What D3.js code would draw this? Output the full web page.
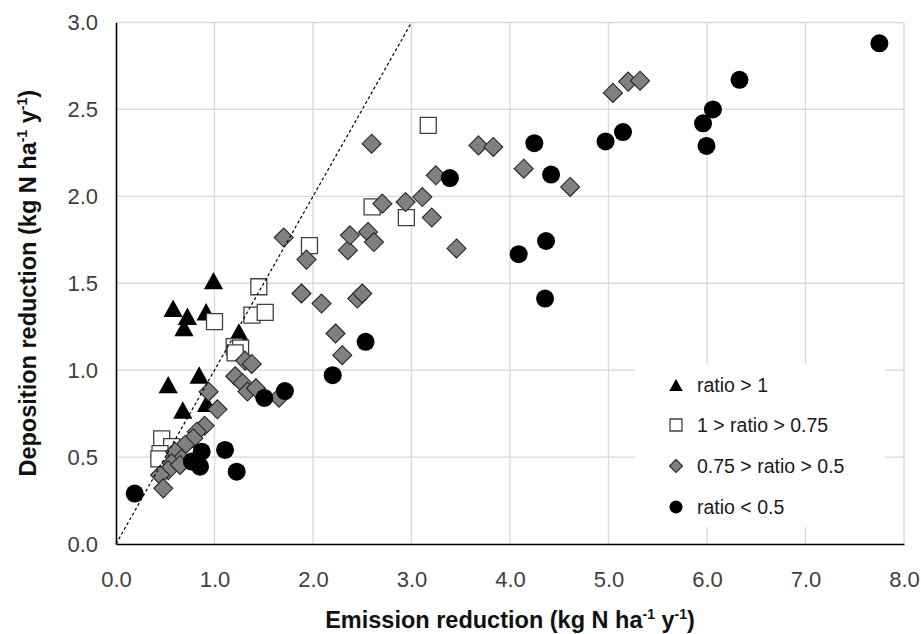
<!DOCTYPE html>
<html><head><meta charset="utf-8">
<script src="https://cdn.jsdelivr.net/npm/d3@7"></script>
<style>body{margin:0;background:#fff}</style>
</head><body>
<svg id="c" width="921" height="634"></svg>
<script>
// ---------- data ----------
const seriesNames = ["ratio > 1", "1 > ratio > 0.75", "0.75 > ratio > 0.5", "ratio < 0.5"];

const ratioAbove1 = [
  [0.99,1.515],[0.58,1.356],[0.725,1.31],[0.69,1.245],[0.915,1.336],[1.248,1.22],
  [0.53,0.917],[0.844,0.972],[0.678,0.771],[0.92,0.81]
];
const ratio1to075 = [
  [1.45,1.48],[1.0,1.279],[1.38,1.317],[1.515,1.332],[1.2,1.135],[1.265,1.127],[1.21,1.1],
  [0.464,0.605],[0.565,0.56],[0.447,0.52],[0.435,0.49],
  [3.17,2.408],[2.6,1.939],[2.948,1.878],[1.964,1.717]
];
const ratio075to05 = [
  [0.90,0.68],[0.82,0.646],[0.785,0.608],[0.70,0.57],[0.60,0.53],[0.667,0.49],[0.565,0.464],
  [0.53,0.425],[0.447,0.397],[0.48,0.32],[0.65,0.455],
  [0.94,0.876],[1.03,0.775],[1.31,1.055],[1.378,1.036],[1.21,0.965],[1.285,0.925],[1.335,0.877],
  [1.42,0.896],[1.655,0.842],
  [1.883,1.441],[2.087,1.383],[2.45,1.412],[2.50,1.441],[2.229,1.211],[2.297,1.086],
  [1.703,1.763],[1.934,1.636],[2.354,1.69],[2.375,1.776],[2.558,1.795],[2.619,1.737],
  [2.595,2.303],[2.704,1.958],[2.94,1.967],[3.11,1.996],[3.247,2.121],[3.206,1.878],[3.457,1.70],
  [3.68,2.293],[3.83,2.284],[4.139,2.159],[4.611,2.054],[5.045,2.595],[5.2,2.66],[5.32,2.665]
];
const ratioBelow05 = [
  [0.19,0.29],[0.87,0.531],[0.77,0.474],[0.853,0.445],[1.107,0.541],[1.225,0.416],
  [1.506,0.84],[1.715,0.88],[2.2,0.971],[2.534,1.163],[3.39,2.105],
  [4.247,2.306],[4.417,2.125],[4.97,2.316],[5.147,2.37],[4.366,1.743],[4.088,1.667],[4.356,1.412],
  [5.96,2.42],[5.995,2.29],[6.06,2.50],[6.33,2.67],[7.75,2.88]
];

const xTickValues = [0,1,2,3,4,5,6,7,8];
const yTickValues = [0,0.5,1,1.5,2,2.5,3];
const oneToOneLine = [[0,0],[3,3]];

// ---------- layout ----------
const svg = d3.select("#c");
const pLeft = 116, pRight = 904, pTop = 22.5, pBottom = 544;
const x = d3.scaleLinear().domain([0,8]).range([pLeft,pRight]);
const y = d3.scaleLinear().domain([0,3]).range([pBottom,pTop]);

svg.append("rect").attr("width",921).attr("height",634).attr("fill","#fff");

// gridlines
const grid = svg.append("g").attr("stroke","#d9d9d9").attr("stroke-width",1.3);
grid.selectAll("line.v").data(xTickValues.filter(d=>d>0)).join("line").attr("class","v")
  .attr("x1",d=>x(d)).attr("x2",d=>x(d)).attr("y1",pTop).attr("y2",pBottom);
grid.selectAll("line.h").data(yTickValues.filter(d=>d>0)).join("line").attr("class","h")
  .attr("y1",d=>y(d)).attr("y2",d=>y(d)).attr("x1",pLeft).attr("x2",pRight);

// axes
const fmt = d3.format(".1f");
const xAxis = svg.append("g").attr("transform",`translate(0,${pBottom})`)
  .call(d3.axisBottom(x).tickValues(xTickValues).tickFormat(fmt).tickSize(0).tickPadding(27));
const yAxis = svg.append("g").attr("transform",`translate(${pLeft},0)`)
  .call(d3.axisLeft(y).tickValues(yTickValues).tickFormat(fmt).tickSize(0).tickPadding(18));
[xAxis,yAxis].forEach(a=>{
  a.select(".domain").attr("stroke","#000").attr("stroke-width",1.6);
  a.selectAll("text").attr("font-family","Liberation Sans, Arial, sans-serif")
    .attr("font-size",22).attr("fill","#404040");
});

// markers
const shapes = {
  triangle: s => `M0,${-s*0.47}L${s*0.52},${s*0.47}L${-s*0.52},${s*0.47}Z`,
  square: s => `M${-s/2},${-s/2}H${s/2}V${s/2}H${-s/2}Z`,
  diamond: s => `M0,${-s/2}L${s/2},0L0,${s/2}L${-s/2},0Z`,
  circle: s => d3.arc()({innerRadius:0,outerRadius:s/2,startAngle:0,endAngle:2*Math.PI})
};
const styles = [
  {data: ratioAbove1, shape:"triangle", size:18.5, fill:"#000", stroke:"none", sw:0, lsize:13},
  {data: ratio1to075, shape:"square", size:16, fill:"#fff", stroke:"#404040", sw:1.3, lsize:12},
  {data: ratio075to05, shape:"diamond", size:19, fill:"#808080", stroke:"#262626", sw:1.1, lsize:13},
  {data: ratioBelow05, shape:"circle", size:18, fill:"#000", stroke:"none", sw:0, lsize:13}
];

const marks = svg.append("g");
styles.forEach(st=>{
  marks.append("g").selectAll("path").data(st.data).join("path")
    .attr("transform",d=>`translate(${x(d[0])},${y(d[1])})`)
    .attr("d",shapes[st.shape](st.size))
    .attr("fill",st.fill).attr("stroke",st.stroke).attr("stroke-width",st.sw);
});

// 1:1 line
svg.append("path").datum(oneToOneLine)
  .attr("d",d3.line().x(d=>x(d[0])).y(d=>y(d[1])))
  .attr("stroke","#000").attr("stroke-width",1.2).attr("stroke-dasharray","3,2.5").attr("fill","none");

// legend
const lg = svg.append("g");
lg.append("rect").attr("x",635).attr("y",364).attr("width",250).attr("height",163).attr("fill","#fff");
const rowsY = [385,425,466,507];
styles.forEach((st,i)=>{
  lg.append("path").attr("transform",`translate(676,${rowsY[i]})`)
    .attr("d",shapes[st.shape](st.lsize))
    .attr("fill",st.fill).attr("stroke",st.stroke).attr("stroke-width",st.sw);
  lg.append("text").attr("x",697).attr("y",rowsY[i]).attr("dy","0.35em")
    .attr("font-family","Liberation Sans, Arial, sans-serif").attr("font-size",19.5)
    .attr("fill","#1a1a1a").text(seriesNames[i]);
});

// axis titles with superscripts
function title(g, parts){
  const t = g.append("text").attr("font-family","Liberation Sans, Arial, sans-serif")
    .attr("font-weight","bold").attr("font-size",23.5).attr("fill","#111").attr("text-anchor","middle");
  parts.forEach(p=>{
    if(p.sup){
      t.append("tspan").attr("dy",-9).attr("font-size",14).text(p.t);
    } else {
      t.append("tspan").attr("dy",p.after?9:0).text(p.t);
    }
  });
  return t;
}
const xt = svg.append("g").attr("transform",`translate(${(pLeft+pRight)/2},628)`);
title(xt,[{t:"Emission reduction (kg N ha"},{t:"-1",sup:true},{t:" y",after:true},{t:"-1",sup:true},{t:")",after:true}]);
const yt = svg.append("g").attr("transform",`translate(36,${(pTop+pBottom)/2}) rotate(-90)`);
title(yt,[{t:"Deposition reduction (kg N ha"},{t:"-1",sup:true},{t:" y",after:true},{t:"-1",sup:true},{t:")",after:true}]);
</script>
</body></html>
